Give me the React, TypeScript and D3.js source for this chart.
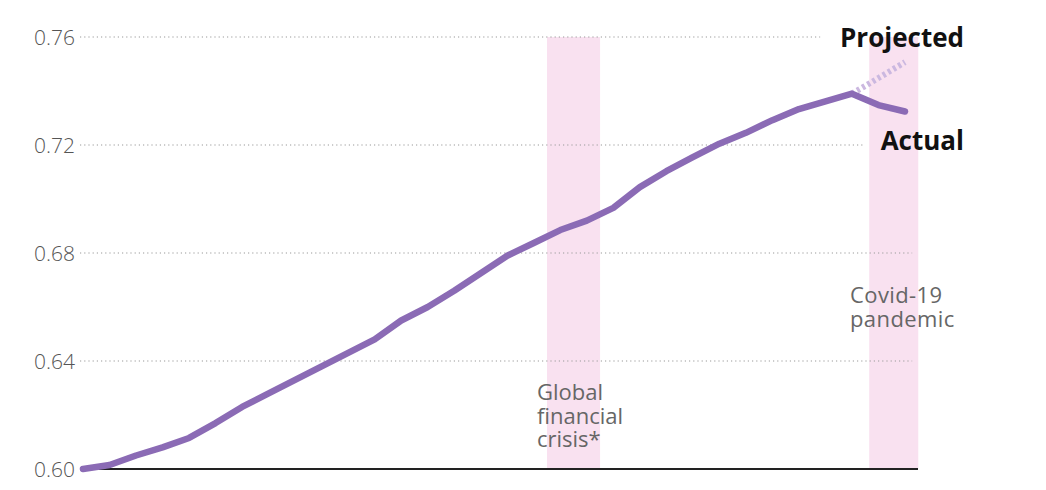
import React from "react";
import * as d3 from "d3";

const years = d3.range(1990, 2022);
const actual = [
  0.6, 0.6015, 0.605, 0.608, 0.6115, 0.617, 0.623, 0.628, 0.633, 0.638, 0.643,
  0.648, 0.655, 0.66, 0.666, 0.6725, 0.679, 0.6837, 0.6885, 0.692, 0.6967,
  0.7044, 0.7103, 0.7155, 0.7205, 0.7245, 0.7292, 0.7333, 0.7362, 0.739,
  0.7348, 0.7324,
];
const projectedYears = [2019, 2020, 2021];
const projected = [0.739, 0.7448, 0.7507];
const yTicks = [0.6, 0.64, 0.68, 0.72, 0.76];
const gridEnds = [2021.27, 2021.27, 2021.27, 2019.5, 2017.8];
const bands = [
  { from: 2007.5, to: 2009.5, label: ["Global", "financial", "crisis*"] },
  { from: 2019.65, to: 2021.5, label: ["Covid-19", "pandemic"] },
];

const W = 1046;
const H = 490;
const FONT = "'Open Sans', 'DejaVu Sans', sans-serif";

export default function App() {
  const x = d3.scaleLinear().domain([1990, 2021]).range([83, 905]);
  const y = d3.scaleLinear().domain([0.6, 0.76]).range([469, 37]);
  const line = d3
    .line<[number, number]>()
    .x((d) => x(d[0]))
    .y((d) => y(d[1]))
    .curve(d3.curveLinear);
  const actualPts = years.map((yr, i) => [yr, actual[i]] as [number, number]);
  const projPts = projectedYears.map((yr, i) => [yr, projected[i]] as [number, number]);

  return (
    <svg
      width={W}
      height={H}
      style={{ position: "absolute", left: 0, top: 0, background: "#fff" }}
    >
      {bands.map((b, i) => (
        <rect
          key={i}
          x={x(b.from)}
          y={y(0.76)}
          width={x(b.to) - x(b.from)}
          height={y(0.6) - y(0.76)}
          fill="#f9e1f0"
        />
      ))}
      {yTicks.map((t, i) => (
        <g key={t}>
          {t !== 0.6 && (
            <line
              x1={80}
              x2={x(gridEnds[i])}
              y1={y(t)}
              y2={y(t)}
              stroke="#9a9a9a"
              strokeWidth={1.2}
              strokeDasharray="1.2,3"
            />
          )}
          <text
            x={75}
            y={y(t)}
            dy="0.36em"
            textAnchor="end"
            fontFamily={FONT}
            fontSize={21}
            fontWeight={300}
            fill="#555"
          >
            {t.toFixed(2)}
          </text>
        </g>
      ))}
      <line x1={82} x2={918} y1={y(0.6)} y2={y(0.6)} stroke="#222" strokeWidth={2} />
      {/* band labels */}
      <text fontFamily={FONT} fontSize={22} fill="#666">
        {bands[0].label.map((l, i) => (
          <tspan key={i} x={537} y={400 + i * 23.5}>
            {l}
          </tspan>
        ))}
      </text>
      <text fontFamily={FONT} fontSize={22} fill="#666" letterSpacing={0.4}>
        {bands[1].label.map((l, i) => (
          <tspan key={i} x={850} y={303 + i * 24}>
            {l}
          </tspan>
        ))}
      </text>
      <path
        d={line(projPts) || ""}
        fill="none"
        stroke="#cbb8e0"
        strokeWidth={6}
        strokeDasharray="3,3"
      />
      <path
        d={line(actualPts) || ""}
        fill="none"
        stroke="#8b6bb5"
        strokeWidth={6.5}
        strokeLinecap="round"
        strokeLinejoin="round"
      />
      <text
        x={964}
        y={47}
        textAnchor="end"
        fontFamily={FONT}
        fontSize={26}
        fontWeight={700}
        fill="#111"
      >
        Projected
      </text>
      <text
        x={964}
        y={150}
        textAnchor="end"
        fontFamily={FONT}
        fontSize={26}
        fontWeight={700}
        fill="#111"
      >
        Actual
      </text>
    </svg>
  );
}
